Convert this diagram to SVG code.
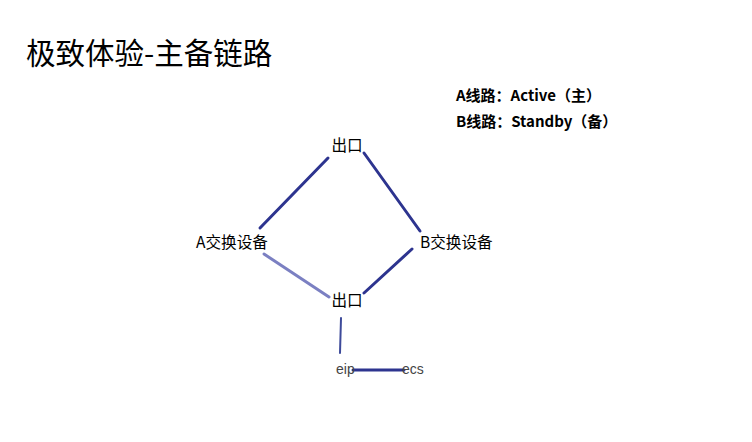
<svg xmlns="http://www.w3.org/2000/svg" width="752" height="442" viewBox="0 0 752 442">
<style>
text{font-family:"Noto Sans CJK SC","Liberation Sans",sans-serif;fill:#000}
.t{font-size:29.5px}
.lg{font-size:15px;font-weight:bold}
.n{font-size:15.6px}
.s{font-size:14px;fill:#444;font-family:"Liberation Sans","Noto Sans CJK SC",sans-serif}
.c{stroke:#2d348f;stroke-width:3;fill:none;stroke-linecap:round}
</style>
<rect width="752" height="442" fill="#fff"/>
<text class="t" x="26" y="64">极致体验-主备链路</text>
<text class="lg" x="456" y="101">A线路：Active（主）</text>
<text class="lg" x="456" y="127">B线路：Standby（备）</text>
<g id="connectors">
<line class="c" x1="328" y1="158" x2="260" y2="228"/>
<line class="c" x1="364" y1="153" x2="420" y2="231"/>
<line class="c" x1="264" y1="254" x2="329" y2="297" style="stroke:#7b80c2"/>
<line class="c" x1="412" y1="249" x2="364" y2="293"/>
<line class="c" x1="341" y1="318" x2="340" y2="353" style="stroke-width:2;stroke:#3d4a9a"/>
<line class="c" x1="353" y1="370" x2="404" y2="370"/>
</g>
<g id="top-exit"><text class="n" x="347" y="151" text-anchor="middle">出口</text></g>
<g id="a-switch"><text class="n" x="196" y="248">A交换设备</text></g>
<g id="b-switch"><text class="n" x="420" y="248">B交换设备</text></g>
<g id="bottom-exit"><text class="n" x="347" y="306" text-anchor="middle">出口</text></g>
<g id="eip"><text class="s" x="336" y="374">eip</text></g>
<g id="ecs"><text class="s" x="402" y="374">ecs</text></g>
</svg>
